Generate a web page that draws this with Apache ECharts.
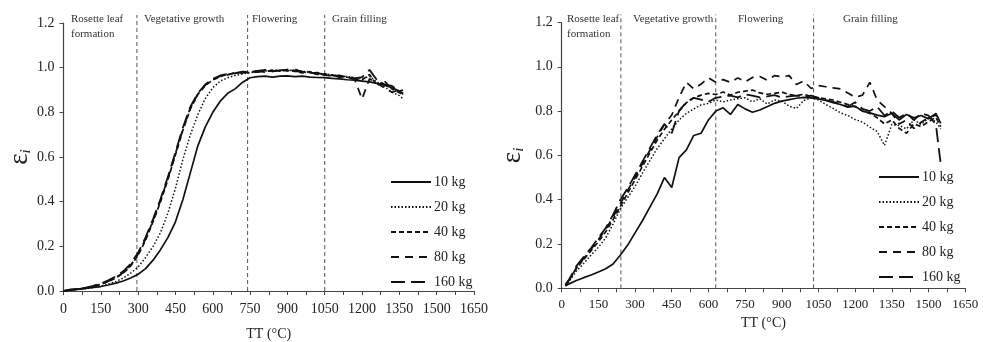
<!DOCTYPE html>
<html>
<head>
<meta charset="utf-8">
<script src="https://cdn.jsdelivr.net/npm/echarts@6/dist/echarts.min.js"></script>
<style>
  html, body { margin: 0; padding: 0; background: #fff; }
  #chart { width: 983px; height: 342px; }
</style>
</head>
<body>
<div id="chart"></div>
<script>
// thermal time (°C d) sample points, left panel and right panel
const TT_L = [0, 30, 60, 90, 120, 150, 180, 210, 240, 270, 300, 330, 360, 390, 420, 450, 480, 510, 540, 570,
  600, 630, 660, 690, 720, 750, 780, 810, 840, 870, 900, 930, 960, 990, 1020, 1050, 1080, 1110, 1140, 1170,
  1200, 1230, 1260, 1290, 1320, 1350, 1365]
const TT_R = [15, 30, 60, 90, 120, 150, 180, 210, 240, 270, 300, 330, 360, 390, 420, 450, 480, 510, 540, 570,
  600, 630, 660, 690, 720, 750, 780, 810, 840, 870, 900, 930, 960, 990, 1020, 1050, 1080, 1110, 1140, 1170,
  1200, 1230, 1260, 1290, 1320, 1350, 1380, 1410, 1440, 1470, 1500, 1530, 1550]

const names = ['10 kg', '20 kg', '40 kg', '80 kg', '160 kg']

// left panel, fraction of intercepted radiation
const L10 = [0.000, 0.004, 0.008, 0.012, 0.016, 0.020, 0.027, 0.035, 0.045, 0.058, 0.075, 0.100, 0.138, 0.185, 0.240, 0.310, 0.410, 0.530, 0.650, 0.735,
  0.800, 0.850, 0.885, 0.905, 0.935, 0.955, 0.960, 0.962, 0.958, 0.962, 0.963, 0.960, 0.962, 0.958, 0.956, 0.955, 0.952, 0.950, 0.946, 0.944,
  0.940, 0.936, 0.930, 0.922, 0.910, 0.895, 0.885]
const L20 = [0.000, 0.003, 0.007, 0.011, 0.015, 0.021, 0.030, 0.042, 0.058, 0.080, 0.108, 0.150, 0.200, 0.262, 0.350, 0.460, 0.590, 0.700, 0.790, 0.862,
  0.910, 0.940, 0.955, 0.965, 0.972, 0.978, 0.981, 0.985, 0.983, 0.988, 0.986, 0.990, 0.984, 0.980, 0.976, 0.972, 0.968, 0.964, 0.960, 0.955,
  0.950, 0.962, 0.935, 0.915, 0.890, 0.875, 0.860]
const L40 = [0.000, 0.005, 0.008, 0.013, 0.020, 0.030, 0.042, 0.058, 0.080, 0.112, 0.160, 0.228, 0.310, 0.400, 0.500, 0.610, 0.720, 0.815, 0.880, 0.920,
  0.945, 0.960, 0.970, 0.975, 0.980, 0.978, 0.985, 0.980, 0.990, 0.984, 0.992, 0.985, 0.976, 0.982, 0.970, 0.972, 0.965, 0.960, 0.957, 0.950,
  0.945, 0.970, 0.920, 0.940, 0.905, 0.888, 0.875]
const L80 = [0.000, 0.006, 0.009, 0.014, 0.021, 0.031, 0.044, 0.060, 0.082, 0.115, 0.165, 0.232, 0.315, 0.405, 0.505, 0.615, 0.725, 0.820, 0.882, 0.922,
  0.948, 0.962, 0.968, 0.978, 0.976, 0.982, 0.980, 0.988, 0.983, 0.990, 0.985, 0.993, 0.980, 0.978, 0.972, 0.968, 0.962, 0.966, 0.955, 0.948,
  0.860, 0.950, 0.930, 0.910, 0.890, 0.900, 0.880]
const L160 = [0.000, 0.007, 0.010, 0.015, 0.023, 0.034, 0.048, 0.065, 0.088, 0.122, 0.172, 0.240, 0.322, 0.412, 0.512, 0.622, 0.732, 0.825, 0.885, 0.925,
  0.950, 0.965, 0.972, 0.975, 0.982, 0.980, 0.986, 0.990, 0.985, 0.988, 0.990, 0.984, 0.982, 0.975, 0.978, 0.966, 0.968, 0.958, 0.962, 0.952,
  0.958, 0.990, 0.945, 0.925, 0.918, 0.895, 0.900]

// right panel
const R10 = [0.010, 0.020, 0.035, 0.048, 0.060, 0.074, 0.088, 0.110, 0.150, 0.195, 0.250, 0.305, 0.365, 0.425, 0.500, 0.455, 0.590, 0.625, 0.690, 0.700,
  0.760, 0.800, 0.815, 0.785, 0.830, 0.810, 0.795, 0.805, 0.820, 0.835, 0.845, 0.852, 0.858, 0.862, 0.860, 0.855, 0.848, 0.838, 0.830, 0.818,
  0.822, 0.800, 0.792, 0.782, 0.775, 0.790, 0.760, 0.785, 0.770, 0.780, 0.765, 0.790, 0.745]
const R20 = [0.012, 0.030, 0.078, 0.112, 0.150, 0.185, 0.228, 0.290, 0.360, 0.410, 0.460, 0.520, 0.575, 0.630, 0.675, 0.720, 0.760, 0.790, 0.810, 0.828,
  0.835, 0.850, 0.842, 0.850, 0.856, 0.860, 0.842, 0.856, 0.832, 0.850, 0.846, 0.822, 0.812, 0.848, 0.860, 0.850, 0.830, 0.812, 0.792, 0.780,
  0.762, 0.750, 0.728, 0.708, 0.645, 0.740, 0.735, 0.720, 0.760, 0.740, 0.770, 0.752, 0.720]
const R40 = [0.015, 0.035, 0.090, 0.130, 0.170, 0.210, 0.255, 0.310, 0.370, 0.430, 0.490, 0.550, 0.610, 0.668, 0.718, 0.760, 0.800, 0.838, 0.860, 0.872,
  0.880, 0.875, 0.886, 0.872, 0.885, 0.890, 0.895, 0.882, 0.876, 0.880, 0.886, 0.875, 0.870, 0.876, 0.866, 0.860, 0.855, 0.850, 0.840, 0.830,
  0.820, 0.800, 0.790, 0.770, 0.742, 0.760, 0.722, 0.700, 0.742, 0.730, 0.752, 0.772, 0.730]
const R80 = [0.015, 0.036, 0.092, 0.135, 0.176, 0.220, 0.266, 0.322, 0.382, 0.442, 0.502, 0.562, 0.622, 0.682, 0.740, 0.782, 0.862, 0.930, 0.900, 0.922,
  0.950, 0.930, 0.942, 0.930, 0.950, 0.932, 0.952, 0.956, 0.940, 0.960, 0.955, 0.960, 0.920, 0.936, 0.902, 0.915, 0.910, 0.905, 0.900, 0.882,
  0.862, 0.872, 0.930, 0.850, 0.820, 0.790, 0.742, 0.760, 0.722, 0.750, 0.770, 0.782, 0.760]
const R160 = [0.016, 0.040, 0.100, 0.142, 0.182, 0.228, 0.272, 0.332, 0.400, 0.452, 0.512, 0.572, 0.632, 0.692, 0.742, 0.700, 0.802, 0.840, 0.860, 0.852,
  0.842, 0.860, 0.866, 0.870, 0.862, 0.875, 0.870, 0.862, 0.866, 0.872, 0.862, 0.866, 0.870, 0.865, 0.870, 0.860, 0.850, 0.842, 0.832, 0.820,
  0.840, 0.810, 0.800, 0.820, 0.780, 0.800, 0.770, 0.790, 0.760, 0.790, 0.780, 0.740, 0.560]

// phase boundaries (TT) for each panel
const phasesL = [295, 740, 1050]
const phasesR = [242, 630, 1030]
const phaseTop = 1.236

const xTicks = { min: 0, max: 1650, interval: 150 }
const yTicks = { min: 0, max: 1.2, interval: 0.2 }

const serif = '"Liberation Serif", "DejaVu Serif", serif'
const ink = '#222'
const lineStyles = [
  { type: 'solid', width: 1.7 },
  { type: [1.5, 2], width: 1.5 },
  { type: [5, 3], width: 1.7 },
  { type: [8, 6], width: 1.7 },
  { type: [14, 6], width: 1.8 }
]

const pairs = (xs, ys) => xs.map((x, i) => [x, ys[i]])

const chart = echarts.init(document.getElementById('chart'))

const makeSeries = (idx, xs, sets) => sets.map((ys, k) => ({
  name: names[k],
  type: 'line',
  xAxisIndex: idx,
  yAxisIndex: idx,
  symbol: 'none',
  data: pairs(xs, ys),
  lineStyle: Object.assign({ color: '#111' }, lineStyles[k]),
  itemStyle: { color: '#111' }
}))

// vertical dashed boundaries between phases, broken with '-' between them
const phaseSeries = (idx, phases) => ({
  type: 'line',
  xAxisIndex: idx,
  yAxisIndex: idx,
  symbol: 'none',
  silent: true,
  clip: false,
  z: 1,
  data: phases.flatMap(p => [[p, 0], [p, phaseTop], [p, '-']]),
  lineStyle: { color: '#555', type: [4, 3], width: 1 }
})

const xAxisBase = (idx, gap, labelMargin, fs) => ({
  type: 'value',
  gridIndex: idx,
  min: xTicks.min,
  max: xTicks.max,
  interval: xTicks.interval,
  name: 'TT (°C)',
  nameLocation: 'middle',
  nameGap: gap,
  nameTextStyle: { fontFamily: serif, fontSize: 14, color: ink },
  axisLine: { lineStyle: { color: '#444', width: 1.2 } },
  axisTick: { show: true, inside: false, length: 4, lineStyle: { color: '#444' } },
  minorTick: { show: true, splitNumber: 2, length: 4, lineStyle: { color: '#444' } },
  splitLine: { show: false },
  axisLabel: { fontFamily: serif, fontSize: fs, color: ink, margin: labelMargin, formatter: v => String(v) }
})

const yAxisBase = (idx, gap) => ({
  type: 'value',
  gridIndex: idx,
  min: yTicks.min,
  max: yTicks.max,
  interval: yTicks.interval,
  name: '{a|ε}{b|i}',
  nameLocation: 'middle',
  nameRotate: 90,
  nameGap: gap,
  nameTextStyle: {
    rich: {
      a: { fontFamily: serif, fontSize: 27, color: ink },
      b: { fontFamily: serif, fontSize: 15, fontStyle: 'italic', color: ink, verticalAlign: 'bottom' }
    }
  },
  axisLine: { show: true, lineStyle: { color: '#444', width: 1.2 } },
  axisTick: { show: true, inside: false, length: 4, lineStyle: { color: '#444' } },
  splitLine: { show: false },
  axisLabel: { fontFamily: serif, fontSize: 14, color: ink, margin: 9, formatter: v => v.toFixed(1) }
})

const legendBase = (left, top) => ({
  left: left,
  top: top,
  orient: 'vertical',
  itemWidth: 40,
  itemHeight: 14,
  itemGap: 11,
  selectedMode: false,
  data: names,
  itemStyle: { color: 'rgba(0,0,0,0)', borderWidth: 0 },
  textStyle: { fontFamily: serif, fontSize: 14, color: ink, padding: [0, 0, 0, -2] }
})

const phaseText = (x, y, text) => ({
  type: 'text',
  silent: true,
  style: { x: x, y: y, text: text, font: '11px ' + serif, lineHeight: 14.5, fill: '#333' }
})

const option = {
  animation: false,
  backgroundColor: '#fff',
  grid: [
    { left: 63.5, top: 23, width: 410.5, height: 268, outerBoundsMode: 'none' },
    { left: 561.7, top: 22.5, width: 403.5, height: 265.8, outerBoundsMode: 'none' }
  ],
  xAxis: [xAxisBase(0, 36, 11, 14), xAxisBase(1, 28, 10, 13)],
  yAxis: [yAxisBase(0, 25), yAxisBase(1, 35)],
  legend: [legendBase(385, 170), legendBase(873, 165)],
  graphic: [
    phaseText(71, 12, 'Rosette leaf\nformation'),
    phaseText(144, 12, 'Vegetative growth'),
    phaseText(252, 12, 'Flowering'),
    phaseText(332, 12, 'Grain filling'),
    phaseText(567, 12, 'Rosette leaf\nformation'),
    phaseText(633, 12, 'Vegetative growth'),
    phaseText(738, 12, 'Flowering'),
    phaseText(843, 12, 'Grain filling')
  ],
  series: [
    phaseSeries(0, phasesL),
    phaseSeries(1, phasesR),
    ...makeSeries(0, TT_L, [L10, L20, L40, L80, L160]),
    ...makeSeries(1, TT_R, [R10, R20, R40, R80, R160])
  ]
}

chart.setOption(option)
</script>
</body>
</html>
